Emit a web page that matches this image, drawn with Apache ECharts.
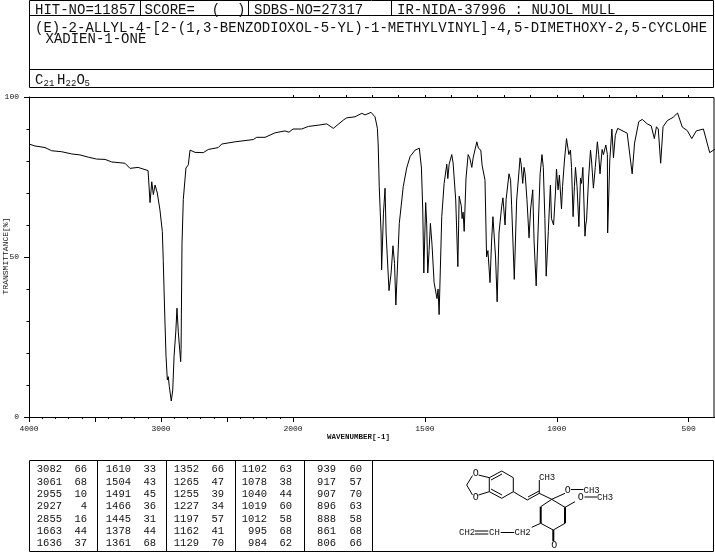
<!DOCTYPE html>
<html>
<head>
<meta charset="utf-8">
<style>html,body{margin:0;padding:0;background:#fff}#c{width:715px;height:553px}</style>
<script src="https://cdn.jsdelivr.net/npm/echarts@6/dist/echarts.min.js"></script>
</head>
<body>
<div id="c"></div>
<script>
const waveHigh = [3992,3955,3879,3828,3752,3676,3614,3551,3487,3424,3373,3273,3235,3174,3098,3083,3070,3058,3045,3028,3008,2990,2983,2972,2962,2952,2945,2937,2922,2911,2901,2888,2879,2869,2851,2848,2841,2831,2811,2793,2780,2742,2680,2642,2566,2540,2439,2301,2275,2212,2136,2061,2030,2000];
const transHigh = [85.2,84.7,84.2,83.2,82.9,82.2,81.9,81.2,80.6,80.5,79.7,79.3,77.7,78,77,67,73.5,69.5,72.5,70,64.7,58,49,32.5,19,11.6,12.6,9.5,5,8.4,19,26.6,34,26.6,17.3,21,54,68,77.8,78.8,83.4,82.7,82.6,83.6,84.2,85.3,86,86.7,87.4,87.4,88.8,89.4,89,90];
const waveLow = [2000,1967,1942,1904,1872,1847,1809,1796,1765,1739,1727,1704,1689,1680,1677,1673,1666,1664,1657,1651,1647,1636,1628,1621,1615,1610,1597,1582,1569,1556,1537,1521,1513,1508,1504,1497,1493,1489,1484,1479,1473,1465,1454,1450,1446,1436,1427,1417,1413,1408,1398,1393,1383,1375,1370,1362,1359,1355,1351,1344,1336,1330,1322,1317,1303,1297,1288,1283,1272,1266,1261,1253,1247,1242,1238,1232,1226,1219,1209,1204,1196,1192,1181,1175,1171,1161,1152,1139,1135,1129,1124,1120,1113,1105,1099,1091,1086,1078,1070,1063,1056,1051,1045,1040,1032,1024,1020,1018,1012,1005,1001,995,990,982,978,971,963,954,948,944,938,933,929,923,916,910,906,901,893,890,887,879,872,868,861,854,846,841,836,828,823,814,808,807,804,799,791,785,778,769,733,714,705,689,676,657,642,630,622,615,606,597,581,558,542,524,505,488,471,444,420,401];
const transLow = [90,90,90.8,91.2,91.6,90.2,92.8,93.5,93.8,94.9,94.4,95.2,93.8,90.2,85,72,57.5,46,63.7,71.5,57.5,39.5,45,53.5,48,35,60.5,72,77.8,81.4,83.4,84,77.8,64.7,45,67,60,45,52,60.5,54,42,37,40,32,62.6,73,79,74.5,79,82,79.4,67.8,47,69,66,62,64,58,74.7,82,81,78,81,86,84,83.4,78.7,74,50,52,42,55,62.6,62,50,36,57.5,65.7,68.5,60,68,76,74,66,43,67.8,81,79,73,78,76,68,56,65,71,55,41,60,76,82,78,62,44,58,72.5,62,62.6,60,70,77.5,71,75.6,65,72,80,87,82,83.4,78,62.6,72,78,72,59.5,74.6,73,78,56.5,60,61.5,75,83.4,80,71.5,78,86,82,76,83.6,82,85,82,57.5,57.5,80,90,81,88,90.2,88.7,76,85.6,92.3,93,91.6,91,87,90.7,90,79.3,90.7,92.6,93.7,95,90.6,89.5,87,89.4,90,82.6,83.7];

const peakWaves = [
  [3082,3061,2955,2927,2855,1663,1636],
  [1610,1504,1491,1466,1445,1378,1361],
  [1352,1265,1255,1227,1197,1162,1129],
  [1102,1078,1040,1019,1012,995,984],
  [939,917,907,896,888,861,806]
];
const peakTrans = [
  [66,68,10,4,16,44,37],
  [33,43,45,36,31,44,68],
  [66,47,39,34,57,41,70],
  [63,38,44,60,58,68,62],
  [60,57,70,63,58,68,66]
];
const headerHit = 'HIT-NO=11857';
const headerScore = 'SCORE=  (  )';
const headerSdbs = 'SDBS-NO=27317';
const headerIr = 'IR-NIDA-37996 : NUJOL MULL';
const compoundLine1 = '(E)-2-ALLYL-4-[2-(1,3-BENZODIOXOL-5-YL)-1-METHYLVINYL]-4,5-DIMETHOXY-2,5-CYCLOHE';
const compoundLine2 = 'XADIEN-1-ONE';

const MONO = '"Liberation Mono","DejaVu Sans Mono",monospace';
const INK = '#111';
const g = [];
function line(x1,y1,x2,y2,w){
  g.push({type:'line',silent:true,shape:{x1,y1,x2,y2},style:{stroke:'#000',lineWidth:w||1}});
}
function box(x,y,w,h){
  g.push({type:'rect',silent:true,shape:{x,y,width:w,height:h},style:{fill:'none',stroke:'#000',lineWidth:1}});
}
function text(t,x,y,size,opt){
  opt=opt||{};
  g.push({type:'text',silent:true,x,y,style:{text:t,fontFamily:MONO,fontSize:size,fontWeight:opt.weight||'normal',fill:INK,textAlign:opt.align||'left',textVerticalAlign:'middle',verticalAlign:'middle'},rotation:opt.rot||0});
}
// header
box(29.5,0.5,684,15);
box(29.5,15.5,684,54);
box(29.5,69.5,684,18);
line(140.5,0,140.5,15);line(248.5,0,248.5,15);line(391.5,0,391.5,15);
text(headerHit,35,10,14);
text(headerScore,144.5,10,14);
text(headerSdbs,254,10,14);
text(headerIr,397,10,14);
text(compoundLine1,35,28,14);
text(compoundLine2,45.5,39.5,14);
text('C',35,80,14);text('21',43.5,83.5,9);
text('H',57,80,14);text('22',65.5,83.5,9);
text('O',76.5,80,14);text('5',84.5,83.5,9);
// axis captions
text('WAVENUMBER[-1]',327,437,7.5,{weight:'bold'});
text('TRANSMITTANCE[%]',5.5,256,8,{align:'center',rot:Math.PI/2});
// plot frame
box(29.5,97.5,684.5,320);
// peak table
box(29.5,460.5,684,91);
[97.5,166.5,235.5,304.5,372.5].forEach(x=>line(x,461,x,551));
const rowY=[469.5,482.5,494.5,506.5,519,531,543.5];
const numRight=[62,131,199,267,336], tRight=[87,156,224,292,362];
peakWaves.forEach((col,c)=>col.forEach((v,r)=>{
  text(String(v),numRight[c],rowY[r],10.5,{align:'right'});
  text(String(peakTrans[c][r]),tRight[c],rowY[r],10.5,{align:'right'});
}));
// structure
line(489.3,477.7,501.7,471);line(491,480,502,474);
line(501.7,471,513.3,477.7);line(513.3,477.7,513.3,491.7);line(513.3,491.7,501.7,498.3);
line(501.7,498.3,489.3,491.7);line(502,495,491,489);line(489.3,491.7,489.3,477.7);
line(478.5,475,489.3,477.7);line(478.5,495,489.3,491.7);
line(472.5,475.5,466.7,485);line(466.7,485,472.5,495);
text('O',475.7,473.5,10,{align:'center'});text('O',475.7,497,10,{align:'center'});
line(513.3,491.7,527.3,500);line(527.3,500,539.3,493.3);line(528,497,539,491);
line(539.3,493.3,539.3,480);line(539.3,493.3,551.7,499.3);
text('CH3',539,477.5,9);
line(551.7,499.3,565,493.3);
text('O',567.7,490,10,{align:'center'});line(571,489.5,583.5,489.5);text('CH3',583.5,490.5,9);
text('O',580.7,497.5,10,{align:'center'});line(584.5,497,597,497);text('CH3',597,497.5,9);
line(551.7,499.3,565,507.3);line(565,507.3,575,501.7);
line(565,507.3,565,523.3,2);line(565,523.3,553.3,530);line(553.3,530,540.7,523.3);
line(540.7,523.3,540.7,506.7,2);line(540.7,506.7,551.7,499.3);
line(553.3,530,553.3,541,2);text('O',554.3,545,10,{align:'center'});
line(540.7,523.3,531.7,527.3);
text('CH2',514.5,533,9);line(500.7,532.5,514.3,532.5);
text('CH',489,533,9);line(475,531,488.3,531);line(475,534,488.3,534);
text('CH2',459,533,9);

const axisFont={fontFamily:MONO,fontSize:8,color:INK};
const plain=v=>String(v);
const option={
  backgroundColor:'#fff',
  animation:false,
  grid:[
    {left:29,top:97,width:264,height:320,containLabel:false},
    {left:293,top:97,width:422,height:320,containLabel:false}
  ],
  xAxis:[
    {gridIndex:0,type:'value',inverse:true,min:2000,max:4000,interval:500,
     axisLine:{lineStyle:{color:'#000',width:1}},splitLine:{show:false},
     axisTick:{show:true,length:5,lineStyle:{color:'#000'}},
     minorTick:{show:true,splitNumber:5,length:2,lineStyle:{color:'#000'}},
     axisLabel:{...axisFont,margin:8,showMinLabel:false,hideOverlap:false,formatter:v=>v%1000===0&&v!==2000?String(v):''}},
    {gridIndex:1,type:'value',inverse:true,min:400,max:2000,interval:100,
     axisLine:{lineStyle:{color:'#000',width:1}},splitLine:{show:false},
     axisTick:{show:true,length:5,customValues:[2000,1500,1000,500],lineStyle:{color:'#000'}},
     axisLabel:{...axisFont,margin:8,customValues:[2000,1500,1000,500],formatter:plain}},
    {gridIndex:1,type:'value',inverse:true,min:400,max:2000,interval:100,
     axisLine:{show:false},splitLine:{show:false},
     axisTick:{show:true,length:2,lineStyle:{color:'#000'}},axisLabel:{show:false}}
  ],
  yAxis:[
    {gridIndex:0,type:'value',min:0,max:100,interval:50,
     axisLine:{show:true,lineStyle:{color:'#000',width:1}},splitLine:{show:false},
     axisTick:{show:true,length:5,lineStyle:{color:'#000'}},
     minorTick:{show:true,splitNumber:5,length:2.5,lineStyle:{color:'#000'}},
     axisLabel:{...axisFont,margin:10}},
    {gridIndex:1,type:'value',min:0,max:100,show:false}
  ],
  series:[
    {type:'line',xAxisIndex:0,yAxisIndex:0,symbol:'none',silent:true,
     lineStyle:{color:'#000',width:1},data:waveHigh.map((w,i)=>[w,transHigh[i]])},
    {type:'line',xAxisIndex:1,yAxisIndex:1,symbol:'none',silent:true,
     lineStyle:{color:'#000',width:1},data:waveLow.map((w,i)=>[w,transLow[i]])}
  ],
  graphic:{elements:g}
};
const chart=echarts.init(document.getElementById('c'),null,{renderer:'canvas',width:715,height:553});
chart.setOption(option);
</script>
</body>
</html>
